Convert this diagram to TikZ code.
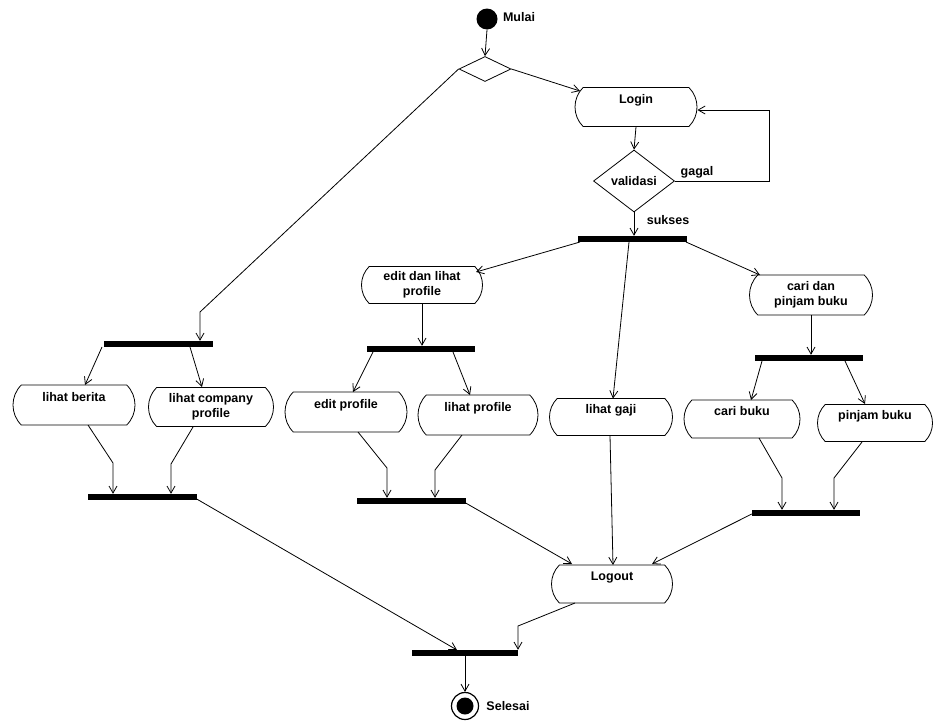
\documentclass[tikz,border=0pt]{standalone}
\usepackage{fontspec}
\setmainfont{Liberation Sans}
\usetikzlibrary{shapes.geometric,shapes.misc,arrows.meta,calc}
\tikzset{
  lbl/.style={font=\fontsize{12.5}{15}\selectfont\bfseries, inner sep=0pt},
  act/.style={rounded rectangle, rounded rectangle arc length=90, draw, line width=0.8pt,
    inner sep=0pt, align=center, font=\fontsize{12.5}{15}\selectfont\bfseries},
  act1/.style={act, text height=9pt, text depth=16pt},
  bar/.style={rectangle, fill=black, draw=none, minimum height=6pt, inner sep=0pt},
  dec/.style={diamond, draw, line width=0.8pt, inner sep=0pt, font=\fontsize{12.5}{15}\selectfont\bfseries},
  arr/.style={line width=0.8pt, -{Straight Barb[length=7pt,width=8pt]}},
  ln/.style={line width=0.8pt}
}
\begin{document}
\begin{tikzpicture}[x=1pt,y=-1pt]
\useasboundingbox (0,0) rectangle (933,723);
% nodes
\node[circle, fill=black, minimum size=21pt, inner sep=0pt] (start) at (487,19) {};
\node[lbl] (mulai) at (519,17) {Mulai};
\node[dec, minimum width=52pt, minimum height=25pt] (d1) at (485,69) {};
\node[act1, minimum width=122pt, minimum height=39pt] (login) at (636,107) {Login};
\node[dec, minimum width=81pt, minimum height=62pt] (valid) at (634,181) {validasi};
\node[lbl] (gagal) at (697,172) {gagal};
\node[lbl] (sukses) at (668,220) {sukses};
\node[bar, minimum width=109pt] (bar1) at (632,239) {};
\node[act, minimum width=121pt, minimum height=37pt] (edl) at (422,285) {edit dan lihat\\profile};
\node[act, minimum width=123pt, minimum height=40pt] (cdp) at (811,295) {cari dan\\pinjam buku};
\node[bar, minimum width=109pt] (barL1) at (158,344) {};
\node[bar, minimum width=108pt] (bar2) at (421,349) {};
\node[bar, minimum width=108pt] (bar4) at (809,358) {};
\node[act1, minimum width=122pt, minimum height=40pt] (berita) at (74,405) {lihat berita};
\node[act, minimum width=125pt, minimum height=39pt] (company) at (211,407) {lihat company\\profile};
\node[act1, minimum width=122pt, minimum height=40pt] (editp) at (346,412) {edit profile};
\node[act1, minimum width=120pt, minimum height=40pt] (lihatp) at (478,415) {lihat profile};
\node[act1, minimum width=123pt, minimum height=37pt] (gaji) at (611,417) {lihat gaji};
\node[act1, minimum width=116pt, minimum height=38pt] (cari) at (742,419) {cari buku};
\node[act1, minimum width=115pt, minimum height=37pt] (pinjam) at (875,423) {pinjam buku};
\node[bar, minimum width=109pt] (barL2) at (142,497) {};
\node[bar, minimum width=109pt] (bar3) at (411,501) {};
\node[bar, minimum width=108pt] (bar5) at (806,513) {};
\node[act1, minimum width=121pt, minimum height=38pt] (logout) at (612,584) {Logout};
\node[bar, minimum width=106pt] (bar6) at (465,653) {};
\node[circle, draw, line width=1.2pt, minimum size=27pt, inner sep=0pt] (endc) at (465,706) {};
\fill (endc.center) circle (8.5);
\node[lbl] (selesai) at (508,706) {Selesai};
% helper coordinates
\coordinate (cL) at (200,312);
\coordinate (gl) at (769,110);
\coordinate (e1) at (387,468);
\coordinate (e2) at (435,470);
\coordinate (c1) at (782,478);
\coordinate (c2) at (834,478);
\coordinate (b1) at (113,463);
\coordinate (b2) at (171,464);
\coordinate (o1) at (518,626);
% connectors
\draw[arr] (start.south) -- (d1.north);
\draw[arr] (d1.east) -- ($(login)+(-56,-16)$);
\draw[arr] (d1.west) -- (cL) -- (cL |- barL1.north);
\draw[arr] (login.south) -- (valid.north);
\draw[arr] (valid.east) -- (gl |- valid.east) -- (gl) -- ($(login.east)+(0,3)$);
\draw[arr] (valid.south) -- (valid.south |- bar1.north);
\draw[arr] ($(bar1)+(-52,3)$) -- ($(edl)+(54,-13)$);
\draw[arr] ($(bar1)+(-3,3)$) -- ($(gaji)+(2,-18.5)$);
\draw[arr] ($(bar1)+(54,3)$) -- ($(cdp)+(-51,-20)$);
\draw[arr] (edl.south) -- (edl.south |- bar2.north);
\draw[arr] ($(bar2)+(-48,3)$) -- ($(editp)+(7,-20)$);
\draw[arr] ($(bar2)+(32,3)$) -- ($(lihatp)+(-8,-20)$);
\draw[arr] ($(editp)+(12,20)$) -- (e1) -- (e1 |- bar3.north);
\draw[arr] ($(lihatp)+(-16,20)$) -- (e2) -- (e2 |- bar3.north);
\draw[arr] ($(bar3.east)+(0,2)$) -- ($(logout)+(-40,-20)$);
\draw[arr] ($(gaji)+(-1,18.5)$) -- ($(logout)+(1,-19)$);
\draw[arr] ($(bar5.west)+(0,1)$) -- ($(logout)+(40,-20)$);
\draw[arr] (cdp.south) -- (cdp.south |- bar4.north);
\draw[arr] ($(bar4)+(-47,3)$) -- ($(cari)+(9,-19)$);
\draw[arr] ($(bar4)+(36,3)$) -- ($(pinjam)+(-10,-19)$);
\draw[arr] ($(cari)+(17,19)$) -- (c1) -- (c1 |- bar5.north);
\draw[arr] ($(pinjam)+(-13,19)$) -- (c2) -- (c2 |- bar5.north);
\draw[arr] ($(barL1)+(-56,3)$) -- ($(berita)+(11,-20)$);
\draw[arr] ($(barL1)+(32,3)$) -- ($(company)+(-9,-20)$);
\draw[arr] ($(berita)+(14,20)$) -- (b1) -- (b1 |- barL2.north);
\draw[arr] ($(company)+(-18,20)$) -- (b2) -- (b2 |- barL2.north);
\draw[arr] ($(barL2.east)+(0,2)$) -- ($(bar6)+(-8,-3)$);
\draw[arr] ($(logout)+(-37,19)$) -- (o1) -- (o1 |- bar6.north);
\draw[arr] (bar6.south) -- (endc.north);
\end{tikzpicture}
\end{document}
